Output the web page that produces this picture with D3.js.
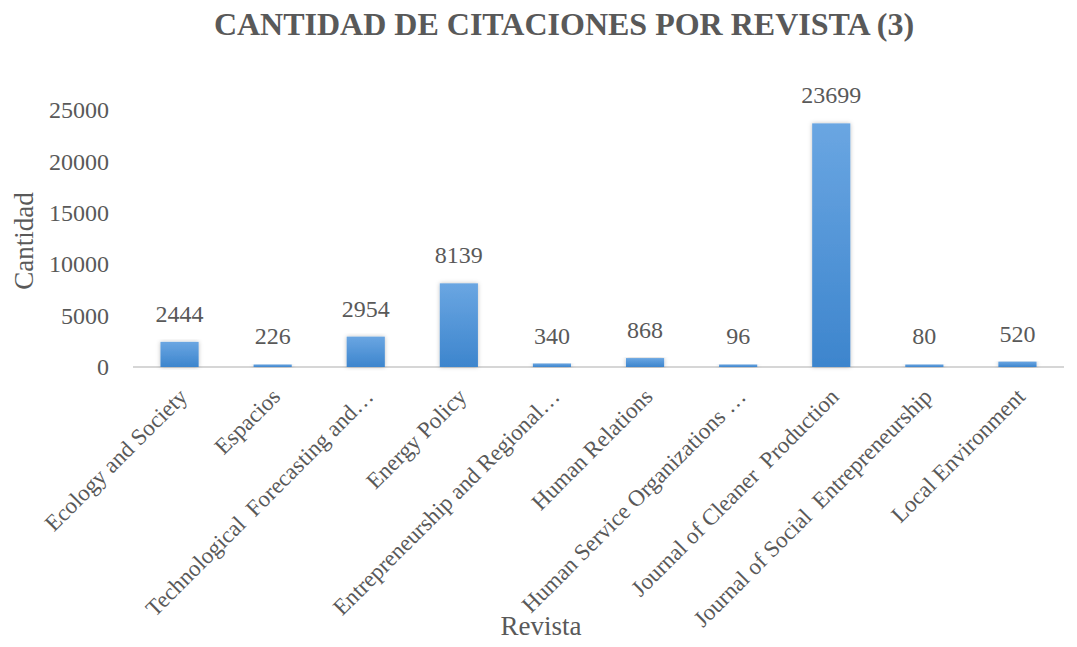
<!DOCTYPE html>
<html>
<head>
<meta charset="utf-8">
<script src="https://cdn.jsdelivr.net/npm/d3@7/dist/d3.min.js"></script>
<style>
  body { margin: 0; background: #fff; }
  text { font-family: "Liberation Serif", "DejaVu Serif", serif; fill: #595959; }
</style>
</head>
<body>
<div id="chart"></div>
<script>
var revistas = ["Ecology and Society", "Espacios", "Technological  Forecasting and\u2026", "Energy Policy",
  "Entrepreneurship and Regional\u2026", "Human Relations", "Human Service Organizations \u2026",
  "Journal of Cleaner  Production", "Journal of Social  Entrepreneurship", "Local Environment"];
var citaciones = [2444, 226, 2954, 8139, 340, 868, 96, 23699, 80, 520];
var yTicks = [0, 5000, 10000, 15000, 20000, 25000];

var width = 1077, height = 647;
var margin = {top: 110, right: 13, bottom: 280, left: 133};

var svg = d3.select("#chart").append("svg")
  .attr("width", width)
  .attr("height", height);

// degradado de las barras
var defs = svg.append("defs");
var grad = defs.append("linearGradient").attr("id", "barGrad")
  .attr("x1", 0).attr("y1", 0).attr("x2", 0).attr("y2", 1);
grad.append("stop").attr("offset", "0%").attr("stop-color", "#6aa6e2");
grad.append("stop").attr("offset", "100%").attr("stop-color", "#3d85cd");
var shadow = defs.append("filter").attr("id", "sombra")
  .attr("x", "-30%").attr("y", "-10%").attr("width", "160%").attr("height", "120%");
shadow.append("feDropShadow").attr("dx", 0).attr("dy", 0).attr("stdDeviation", 2)
  .attr("flood-color", "#000").attr("flood-opacity", 0.25);

var x = d3.scaleBand()
  .domain(revistas)
  .range([margin.left, width - margin.right])
  .paddingInner(0.59).paddingOuter(0.295);

var y = d3.scaleLinear()
  .domain([0, 25000])
  .range([367, margin.top]);

var baseY = y(0);

// eje y (solo etiquetas)
var yAxis = svg.append("g")
  .attr("transform", "translate(109,0)")
  .call(d3.axisLeft(y).tickValues(yTicks).tickSize(0).tickPadding(0).tickFormat(d3.format("d")));
yAxis.select(".domain").remove();
yAxis.selectAll("text")
  .style("font-size", "24px")
  .style("fill", "#595959")
  .style("font-family", "'Liberation Serif', serif");

// linea base
svg.append("line")
  .attr("x1", margin.left).attr("x2", width - margin.right)
  .attr("y1", baseY).attr("y2", baseY)
  .style("stroke", "#c8c8c8").style("stroke-width", 1.5);

// barras (minimo 2.5px para que se vean las pequeñas)
svg.append("g").selectAll("rect")
  .data(citaciones)
  .enter().append("rect")
  .attr("x", function(d, i) { return x(revistas[i]); })
  .attr("y", function(d) { return baseY - Math.max(2.5, baseY - y(d)); })
  .attr("width", x.bandwidth())
  .attr("height", function(d) { return Math.max(2.5, baseY - y(d)); })
  .style("fill", "url(#barGrad)")
  .attr("filter", "url(#sombra)");

// etiquetas de datos
svg.append("g").selectAll("text")
  .data(citaciones)
  .enter().append("text")
  .attr("x", function(d, i) { return x(revistas[i]) + x.bandwidth() / 2; })
  .attr("y", function(d) { return Math.min(y(d), baseY - 3) - 20; })
  .attr("text-anchor", "middle")
  .style("font-size", "24px")
  .text(function(d) { return d; });

// etiquetas del eje x
svg.append("g").selectAll("text")
  .data(revistas)
  .enter().append("text")
  .attr("transform", function(d) {
    var cx = x(d) + x.bandwidth() / 2 + 9;
    return "translate(" + cx + "," + (baseY + 31) + ") rotate(-45)";
  })
  .attr("text-anchor", "end")
  .style("font-size", "23px")
  .style("white-space", "pre")
  .text(function(d) { return d; });

// titulo
svg.append("text")
  .attr("x", 564).attr("y", 35)
  .attr("text-anchor", "middle")
  .style("font-size", "32px")
  .style("font-weight", "bold")
  .text("CANTIDAD DE CITACIONES POR REVISTA (3)");

// titulos de ejes
svg.append("text")
  .attr("transform", "translate(33,241) rotate(-90)")
  .attr("text-anchor", "middle")
  .style("font-size", "27px")
  .text("Cantidad");

svg.append("text")
  .attr("x", 541).attr("y", 635)
  .attr("text-anchor", "middle")
  .style("font-size", "27px")
  .text("Revista");
</script>
</body>
</html>
